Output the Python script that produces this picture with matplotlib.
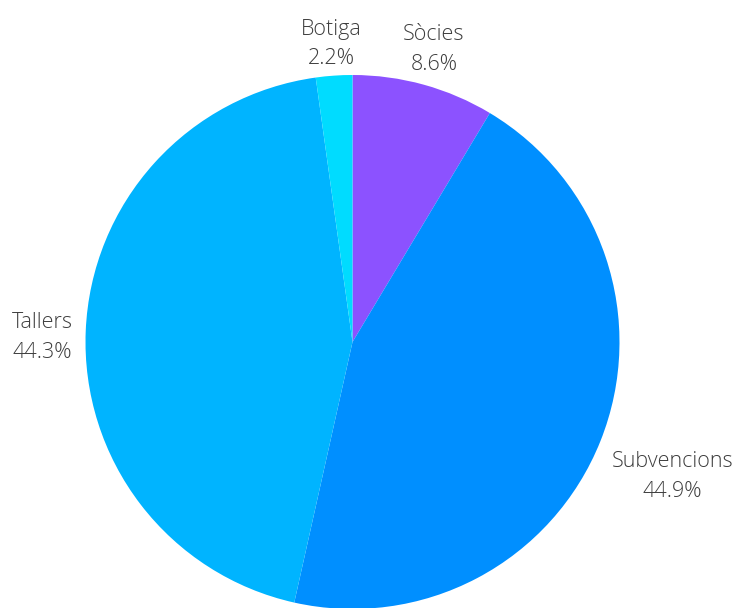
import numpy as np
import matplotlib
matplotlib.use("Agg")
import matplotlib.pyplot as plt

categories = ["Sòcies", "Subvencions", "Tallers", "Botiga"]
shares = [8.6, 44.9, 44.3, 2.2]
colors = ["#8c52ff", "#008fff", "#00b4ff", "#00dcff"]

# label placement: radial distance (pie radii) and a small vertical nudge
label_dist = [1.144, 1.29, 1.163, 1.127]
label_nudge = [-0.008, -0.026, -0.03, -0.008]

fig = plt.figure(figsize=(7.34, 6.08), dpi=100)
W, H = 734, 608
cx, cy, r = 352.5, 342, 267
ax = fig.add_axes([(cx - r) / W, (H - cy - r) / H, 2 * r / W, 2 * r / H])

wedges, _ = ax.pie(
    shares,
    colors=colors,
    startangle=90,
    counterclock=False,
    radius=1.0,
    wedgeprops=dict(linewidth=0),
)

for w, cat, val, d, dy in zip(wedges, categories, shares, label_dist, label_nudge):
    mid = np.deg2rad((w.theta1 + w.theta2) / 2)
    ax.text(d * np.cos(mid), d * np.sin(mid) + dy, f"{cat}\n{val:.1f}%",
            ha="center", va="center", multialignment="center",
            family="Open Sans", weight="light", fontsize=15.5,
            color="#3d3d3d", linespacing=1.55, clip_on=False)

ax.set_xlim(-1, 1)
ax.set_ylim(-1, 1)
ax.set_aspect("equal")
ax.axis("off")

fig.savefig("out.png", dpi=100)
